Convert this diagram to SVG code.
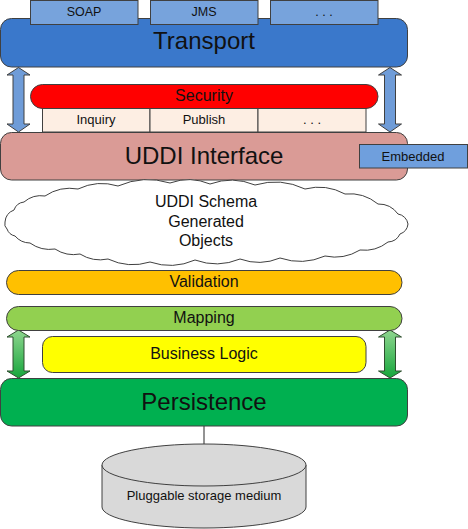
<svg xmlns="http://www.w3.org/2000/svg" width="468" height="529" viewBox="0 0 468 529">
<defs>
<linearGradient id="gArrow" x1="0" y1="0" x2="0" y2="1">
<stop offset="0" stop-color="#8fd68f"/>
<stop offset="1" stop-color="#16a63c"/>
</linearGradient>
<style>
.b{stroke:#404040;stroke-width:1}
.t{font-family:"Liberation Sans",Arial,sans-serif;fill:#111;text-anchor:middle}
.big{font-size:24px}
.mid{font-size:16px}
.sm{font-size:13px}
</style>
</defs>
<rect width="468" height="529" fill="#fff"/>
<g id="connectors">
<line x1="204" y1="426" x2="204" y2="444" stroke="#595959" stroke-width="1.3"/>
<path id="arrow-blue-left" class="b" fill="#6f9cd8" stroke="#41638f" d="M18.5,67.5 L30,75 L24,75 L24,124 L30,124 L18.5,132 L7,124 L13,124 L13,75 L7,75 Z"/>
<path id="arrow-blue-right" class="b" fill="#6f9cd8" stroke="#41638f" d="M390,67.5 L401.5,75 L395.5,75 L395.5,124 L401.5,124 L390,132 L378.5,124 L384.5,124 L384.5,75 L378.5,75 Z"/>
<path id="arrow-green-left" fill="url(#gArrow)" stroke="#2f4f2f" stroke-width="1" d="M18.5,330 L30,337 L24,337 L24,371 L30,371 L18.5,378 L7,371 L13,371 L13,337 L7,337 Z"/>
<path id="arrow-green-right" fill="url(#gArrow)" stroke="#2f4f2f" stroke-width="1" d="M390,330 L401.5,337 L395.5,337 L395.5,371 L401.5,371 L390,378 L378.5,371 L384.5,371 L384.5,337 L378.5,337 Z"/>
</g>
<g id="transport">
<rect class="b" x="0.5" y="18.5" width="407" height="48.5" rx="11" fill="#3a78cb"/>
<text class="t big" x="204" y="49">Transport</text>
</g>
<g id="soap">
<rect class="b" x="30.5" y="0.5" width="107.5" height="24" fill="#77a3dc"/>
<text class="t" style="font-size:12.5px" x="84" y="16">SOAP</text>
</g>
<g id="jms">
<rect class="b" x="150.5" y="0.5" width="107.5" height="24" fill="#77a3dc"/>
<text class="t" style="font-size:12.5px" x="204" y="16">JMS</text>
</g>
<g id="transport-more">
<rect class="b" x="270.5" y="0.5" width="107.5" height="24" fill="#77a3dc"/>
<text class="t" style="font-size:12.5px" x="324" y="16">. . .</text>
</g>
<g id="inquiry">
<rect class="b" x="42.5" y="100" width="107.5" height="32" fill="#fdeee3"/>
<text class="t sm" x="96" y="124">Inquiry</text>
</g>
<g id="publish">
<rect class="b" x="150" y="100" width="108" height="32" fill="#fdeee3"/>
<text class="t sm" x="204" y="124">Publish</text>
</g>
<g id="api-more">
<rect class="b" x="258" y="100" width="108" height="32" fill="#fdeee3"/>
<text class="t sm" x="312" y="124">. . .</text>
</g>
<g id="security">
<rect class="b" x="30.5" y="84.5" width="347.5" height="24" rx="12" fill="#ff0000"/>
<text class="t mid" x="204" y="101">Security</text>
</g>
<g id="uddi-interface">
<rect class="b" x="0.5" y="132.5" width="407" height="47.5" rx="11" fill="#da9b96"/>
<text class="t big" x="204" y="163.5">UDDI Interface</text>
</g>
<g id="embedded">
<rect class="b" x="359.5" y="144.5" width="108" height="23.5" fill="#6f9fdd"/>
<text class="t sm" x="413" y="160.5">Embedded</text>
</g>
<g id="schema-objects">
<path fill="#fff" stroke="#404040" stroke-width="1" d="M5,222 A14,14 0 0 1 14,210 A12,12 0 0 1 24,202 A26,26 0 0 1 45,196 A45,45 0 0 1 78,189 A55,55 0 0 1 118,186 A75,75 0 0 1 170,183 A55,55 0 0 1 210,184 A62,62 0 0 1 255,185 A70,70 0 0 1 305,189 A55,55 0 0 1 345,194 A45,45 0 0 1 378,204 A24,24 0 0 1 398,214 A12,12 0 0 1 408,224 A12,12 0 0 1 400,234 A14,14 0 0 1 388,242 A38,38 0 0 1 360,250 A48,48 0 0 1 325,256 A62,62 0 0 1 280,258 A55,55 0 0 1 240,259 A62,62 0 0 1 195,260 A62,62 0 0 1 150,262 A58,58 0 0 1 108,259 A38,38 0 0 1 80,254 A34,34 0 0 1 55,249 A34,34 0 0 1 30,243 A20,20 0 0 1 15,236 A11,11 0 0 1 7,229 A7,7 0 0 1 5,222 Z"/>
<text class="t mid" x="206" y="207">UDDI Schema</text>
<text class="t mid" x="206" y="227">Generated</text>
<text class="t mid" x="206" y="246">Objects</text>
</g>
<g id="validation">
<rect class="b" x="6.5" y="270.5" width="395.5" height="24" rx="12" fill="#ffc000"/>
<text class="t mid" x="204" y="287">Validation</text>
</g>
<g id="mapping">
<rect class="b" x="6.5" y="306.5" width="395.5" height="24" rx="12" fill="#92d050"/>
<text class="t mid" x="204" y="323">Mapping</text>
</g>
<g id="business-logic">
<rect class="b" x="42.5" y="336.5" width="323.5" height="36" rx="10" fill="#ffff00"/>
<text class="t mid" x="204" y="359">Business Logic</text>
</g>
<g id="persistence">
<rect class="b" x="0.5" y="378.5" width="407" height="47.5" rx="11" fill="#00b050"/>
<text class="t big" x="204" y="409.5">Persistence</text>
</g>
<g id="storage">
<path class="b" fill="#d9d9d9" d="M102,465 L102,507 A102,21 0 0 0 306,507 L306,465"/>
<ellipse class="b" cx="204" cy="465" rx="102" ry="21" fill="#d9d9d9"/>
<text class="t sm" x="204" y="500">Pluggable storage medium</text>
</g>
</svg>
